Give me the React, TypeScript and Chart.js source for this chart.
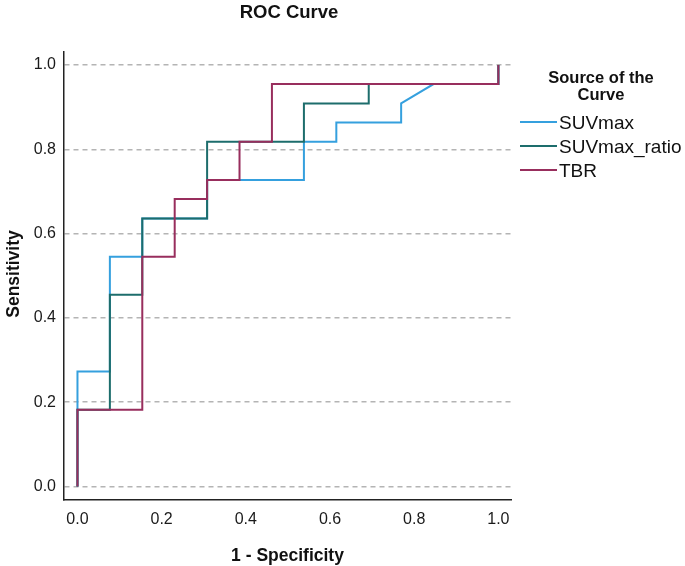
import React, { useEffect, useRef } from "react";
import { Chart, registerables } from "chart.js";

Chart.register(...registerables);

const TITLE = "ROC Curve";
const X_TITLE = "1 - Specificity";
const Y_TITLE = "Sensitivity";
const LEGEND_TITLE = ["Source of the", "Curve"];
const SERIES_NAMES = ["SUVmax", "SUVmax_ratio", "TBR"];
const COLORS = ["#35a0de", "#1d6d6c", "#982e5d"];
const TICKS = [0, 0.2, 0.4, 0.6, 0.8, 1.0];

const SUVMAX_FPR = [0, 0, 0.077, 0.077, 0.154, 0.154, 0.308, 0.308, 0.538, 0.538, 0.615, 0.615, 0.769, 0.769, 0.846, 1, 1];
const SUVMAX_TPR = [0, 0.273, 0.273, 0.545, 0.545, 0.636, 0.636, 0.727, 0.727, 0.818, 0.818, 0.864, 0.864, 0.909, 0.955, 0.955, 1];

const RATIO_FPR = [0, 0, 0.077, 0.077, 0.154, 0.154, 0.308, 0.308, 0.538, 0.538, 0.692, 0.692, 1, 1];
const RATIO_TPR = [0, 0.182, 0.182, 0.455, 0.455, 0.636, 0.636, 0.818, 0.818, 0.909, 0.909, 0.955, 0.955, 1];

const TBR_FPR = [0, 0, 0.154, 0.154, 0.231, 0.231, 0.308, 0.308, 0.385, 0.385, 0.462, 0.462, 1, 1];
const TBR_TPR = [0, 0.182, 0.182, 0.545, 0.545, 0.682, 0.682, 0.727, 0.727, 0.818, 0.818, 0.955, 0.955, 1];

const FONT = "'Liberation Sans', Arial, sans-serif";

const toPoints = (xs: number[], ys: number[]) => xs.map((x, i) => ({ x, y: ys[i] }));

const textPlugin = {
  id: "customText",
  afterDraw(chart: any) {
    const { ctx, chartArea } = chart;
    const { left, right } = chartArea;
    ctx.save();
    ctx.fillStyle = "#111";
    ctx.textBaseline = "middle";
    // title
    ctx.textAlign = "center";
    ctx.font = `bold 18.5px ${FONT}`;
    ctx.fillText(TITLE, 289, 13);
    // x title
    ctx.font = `bold 17.5px ${FONT}`;
    ctx.fillText(X_TITLE, (left + right) / 2, 556);
    // y title
    ctx.save();
    ctx.font = `bold 17.5px ${FONT}`;
    ctx.translate(14, 274);
    ctx.rotate(-Math.PI / 2);
    ctx.fillText(Y_TITLE, 0, 0);
    ctx.restore();
    // legend title
    ctx.font = `bold 16.5px ${FONT}`;
    ctx.fillText(LEGEND_TITLE[0], 601, 78);
    ctx.fillText(LEGEND_TITLE[1], 601, 95);
    // legend items
    ctx.textAlign = "left";
    ctx.font = `19px ${FONT}`;
    const ys = [122, 146, 170];
    SERIES_NAMES.forEach((name, i) => {
      ctx.strokeStyle = COLORS[i];
      ctx.lineWidth = 2;
      ctx.beginPath();
      ctx.moveTo(520, ys[i]);
      ctx.lineTo(557, ys[i]);
      ctx.stroke();
      ctx.fillStyle = "#111";
      ctx.fillText(name, 559, ys[i] + 2);
    });
    ctx.restore();
  },
};

export default function App() {
  const ref = useRef<HTMLCanvasElement | null>(null);
  useEffect(() => {
    if (!ref.current) return;
    const series = [
      toPoints(SUVMAX_FPR, SUVMAX_TPR),
      toPoints(RATIO_FPR, RATIO_TPR),
      toPoints(TBR_FPR, TBR_TPR),
    ];
    const chart = new Chart(ref.current, {
      type: "scatter",
      data: {
        datasets: series.map((data, i) => ({
          label: SERIES_NAMES[i],
          data,
          showLine: true,
          order: series.length - i,
          borderColor: COLORS[i],
          backgroundColor: COLORS[i],
          borderWidth: 2,
          pointRadius: 0,
          pointHoverRadius: 0,
          tension: 0,
          fill: false,
        })),
      },
      options: {
        animation: false,
        responsive: true,
        maintainAspectRatio: false,
        layout: { padding: { top: 52, right: 174, left: 0, bottom: 0 } },
        plugins: {
          legend: { display: false },
          title: { display: false },
          tooltip: { enabled: false },
        },
        scales: {
          x: {
            type: "linear",
            min: -0.032,
            max: 1.03,
            afterBuildTicks: (axis: any) => {
              axis.ticks = TICKS.map((v) => ({ value: v }));
            },
            afterFit: (scale: any) => {
              scale.height = 66;
            },
            grid: { display: false, drawTicks: false },
            border: { display: true, color: "#222", width: 1.5 },
            ticks: {
              padding: 10,
              color: "#1a1a1a",
              font: { family: FONT, size: 16 },
              maxRotation: 0,
              callback: (v: any) => Number(v).toFixed(1),
            },
          },
          y: {
            type: "linear",
            min: -0.032,
            max: 1.031,
            afterBuildTicks: (axis: any) => {
              axis.ticks = TICKS.map((v) => ({ value: v }));
            },
            afterFit: (scale: any) => {
              scale.width = 64;
            },
            grid: { display: true, drawTicks: false, color: "#b4b4b4", lineWidth: 1.5 },
            border: { display: true, color: "#222", width: 1.5, dash: [5, 4] },
            ticks: {
              padding: 8,
              color: "#1a1a1a",
              font: { family: FONT, size: 16 },
              callback: (v: any) => Number(v).toFixed(1),
            },
          },
        },
      },
      plugins: [textPlugin],
    });
    return () => chart.destroy();
  }, []);
  return (
    <div style={{ position: "absolute", left: 0, top: 0, width: 685, height: 566, background: "#fff" }}>
      <canvas ref={ref} style={{ display: "block" }} />
    </div>
  );
}
